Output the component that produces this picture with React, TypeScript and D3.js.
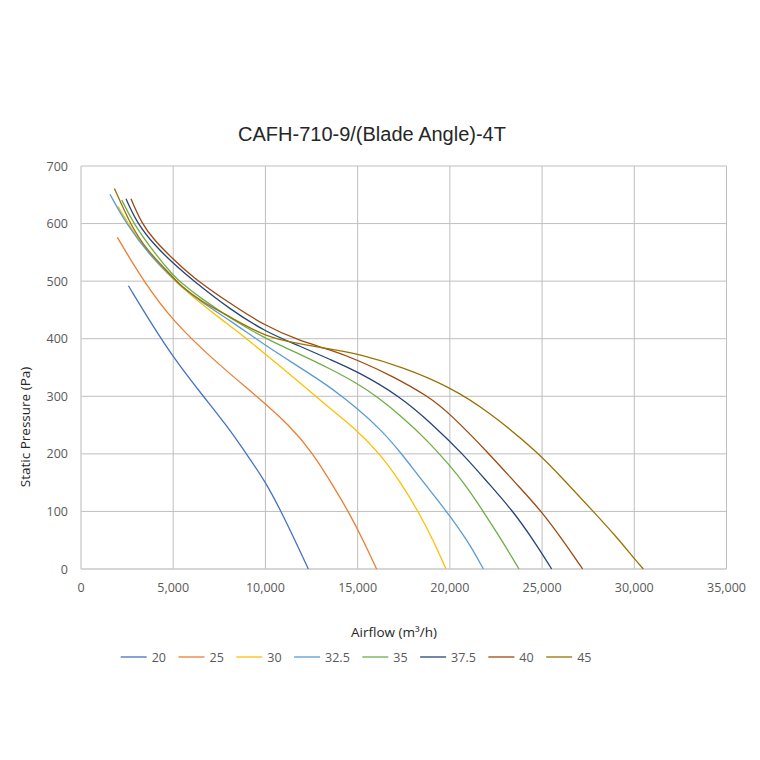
// CAFH-710-9 fan curves - static pressure vs airflow per blade angle

import { useEffect, useRef } from "react";
import * as d3 from "d3";

const title = "CAFH-710-9/(Blade Angle)-4T";
const bladeAngles = ["20", "25", "30", "32.5", "35", "37.5", "40", "45"];
const colors = ["#4472C4", "#ED7D31", "#FFC000", "#5B9BD5", "#70AD47", "#264478", "#9E480E", "#997300"];
const xTicks = [0, 5000, 10000, 15000, 20000, 25000, 30000, 35000];
const yTicks = [0, 100, 200, 300, 400, 500, 600, 700];

// [airflow m3/h, static pressure Pa]
const angle20: [number, number][] = [
  [2570, 492], [3800, 427], [5100, 363], [6630, 300], [8000, 245], [8900, 203],
  [10000, 152], [10850, 100], [11600, 50], [12330, 0],
];
const angle25: [number, number][] = [
  [1970, 576], [3380, 500], [5000, 430], [7180, 363], [9530, 300], [11300, 250],
  [12600, 200], [13600, 148], [14500, 100], [15300, 50], [16030, 0],
];
const angle30: [number, number][] = [
  [2000, 630], [2800, 587], [3900, 539], [5000, 503], [6090, 472], [7000, 449],
  [8000, 424], [8980, 400], [10000, 373], [11000, 347], [12330, 311], [13500, 279],
  [15000, 240], [16210, 200], [17300, 152], [18290, 100], [19100, 50], [19790, 0],
];
const angle32_5: [number, number][] = [
  [1570, 651], [2440, 600], [3720, 545], [5000, 505], [5370, 493], [6450, 465],
  [8080, 432], [10000, 388], [11880, 350], [13500, 316], [14130, 300], [15000, 278],
  [16200, 244], [17300, 204], [18480, 154], [19830, 100], [20950, 50], [21820, 0],
];
const angle35: [number, number][] = [
  [2210, 641], [2840, 600], [4000, 548], [5000, 510], [5370, 499], [6500, 470],
  [8080, 436], [10000, 400], [11880, 373], [13500, 348], [15000, 322], [16030, 300],
  [17500, 262], [18750, 224], [20000, 180], [20770, 149], [21820, 100], [22810, 50],
  [23750, 0],
];
const angle37_5: [number, number][] = [
  [2440, 643], [3050, 600], [4000, 562], [5000, 531], [6000, 503], [8080, 451],
  [10000, 412], [11880, 387], [13500, 364], [15000, 343], [17300, 300], [19000, 253],
  [20700, 200], [22090, 149], [23440, 100], [24530, 50], [25520, 0],
];
const angle40: [number, number][] = [
  [2710, 643], [3290, 600], [4000, 570], [5000, 538], [6000, 508], [8080, 461],
  [10000, 422], [11880, 396], [13500, 381], [15000, 363], [16900, 335], [18830, 300],
  [20000, 270], [22140, 200], [23540, 150], [24980, 100], [26120, 50], [27200, 0],
];
const angle45: [number, number][] = [
  [1810, 661], [2660, 600], [3500, 556], [5000, 507], [5370, 493], [6500, 465],
  [8080, 438], [10000, 403], [11880, 391], [13500, 382], [15000, 374], [17500, 350],
  [20000, 316], [22000, 276], [24890, 200], [26340, 149], [27780, 100], [29000, 57],
  [30000, 18], [30490, 0],
];
const curves = [angle20, angle25, angle30, angle32_5, angle35, angle37_5, angle40, angle45];

const font = "'Open Sans', 'Noto Sans', sans-serif";

export default function App() {
  const svgRef = useRef<SVGSVGElement>(null);

  useEffect(() => {
    document.body.style.margin = "0";
    if (!svgRef.current) return;
    const svg = d3.select(svgRef.current);
    svg.selectAll("*").remove();

    const x = d3.scaleLinear().domain([0, 35000]).range([81, 726.5]);
    const y = d3.scaleLinear().domain([0, 700]).range([569, 166]);

    // background
    svg.append("rect").attr("width", 760).attr("height", 760).attr("fill", "#fff");

    // title
    svg
      .append("text")
      .attr("x", 372)
      .attr("y", 141)
      .attr("text-anchor", "middle")
      .attr("fill", "#262626")
      .style("font-family", "'Liberation Sans', Arial, sans-serif")
      .style("font-size", "20px")
      .text(title);

    // gridlines
    const grid = svg.append("g");
    grid
      .selectAll(".vgrid")
      .data(xTicks.slice(1))
      .enter()
      .append("line")
      .attr("x1", (d) => x(d))
      .attr("x2", (d) => x(d))
      .attr("y1", y(0))
      .attr("y2", y(700))
      .attr("stroke", "#BFBFBF")
      .attr("stroke-width", 1);
    grid
      .selectAll(".hgrid")
      .data(yTicks.slice(1))
      .enter()
      .append("line")
      .attr("x1", x(0))
      .attr("x2", x(35000))
      .attr("y1", (d) => y(d))
      .attr("y2", (d) => y(d))
      .attr("stroke", "#BFBFBF")
      .attr("stroke-width", 1);

    // axis lines
    svg
      .append("line")
      .attr("x1", x(0))
      .attr("x2", x(0))
      .attr("y1", y(0))
      .attr("y2", y(700))
      .attr("stroke", "#D0D0D0")
      .attr("stroke-width", 1.5);
    svg
      .append("line")
      .attr("x1", x(0))
      .attr("x2", x(35000))
      .attr("y1", y(0))
      .attr("y2", y(0))
      .attr("stroke", "#C8C8C8")
      .attr("stroke-width", 1.5);

    // tick labels
    const fmt = d3.format(",");
    svg
      .selectAll(".xlab")
      .data(xTicks)
      .enter()
      .append("text")
      .attr("x", (d) => x(d))
      .attr("y", 592)
      .attr("text-anchor", "middle")
      .attr("fill", "#595959")
      .style("font-family", font)
      .style("font-size", "12.5px")
      .text((d) => fmt(d));
    svg
      .selectAll(".ylab")
      .data(yTicks)
      .enter()
      .append("text")
      .attr("x", 68)
      .attr("y", (d) => y(d))
      .attr("dy", "0.36em")
      .attr("text-anchor", "end")
      .attr("fill", "#595959")
      .style("font-family", font)
      .style("font-size", "12.5px")
      .text((d) => String(d));

    // axis titles
    svg
      .append("text")
      .attr("x", 394)
      .attr("y", 637)
      .attr("text-anchor", "middle")
      .attr("fill", "#262626")
      .style("font-family", font)
      .style("font-size", "13.5px")
      .text("Airflow (m³/h)");
    svg
      .append("text")
      .attr("transform", "translate(30, 427) rotate(-90)")
      .attr("text-anchor", "middle")
      .attr("fill", "#262626")
      .style("font-family", font)
      .style("font-size", "13.5px")
      .text("Static Pressure (Pa)");

    // curves: B-spline smooths out reading noise, still hits both ends
    const line = d3
      .line<[number, number]>()
      .x((d) => x(d[0]))
      .y((d) => y(d[1]))
      .curve(d3.curveBasis);

    svg
      .append("g")
      .selectAll("path")
      .data(curves)
      .enter()
      .append("path")
      .attr("d", (d) => line(d) || "")
      .attr("fill", "none")
      .attr("stroke", (d, i) => colors[i])
      .attr("stroke-width", 1.3);

    // legend, laid out with measured label widths
    const legend = svg.append("g");
    let cursor = 120.7;
    bladeAngles.forEach((label, i) => {
      legend
        .append("line")
        .attr("x1", cursor)
        .attr("x2", cursor + 26)
        .attr("y1", 657)
        .attr("y2", 657)
        .attr("stroke", colors[i])
        .attr("stroke-width", 1.3);
      const t = legend
        .append("text")
        .attr("x", cursor + 31)
        .attr("y", 657)
        .attr("dy", "0.36em")
        .attr("fill", "#595959")
        .style("font-family", font)
        .style("font-size", "12.5px")
        .text(label);
      const w = (t.node() as SVGTextElement).getComputedTextLength();
      cursor += 26 + 5 + w + 12.5;
    });
  }, []);

  return <svg ref={svgRef} width={760} height={760} style={{ display: "block" }} />;
}
